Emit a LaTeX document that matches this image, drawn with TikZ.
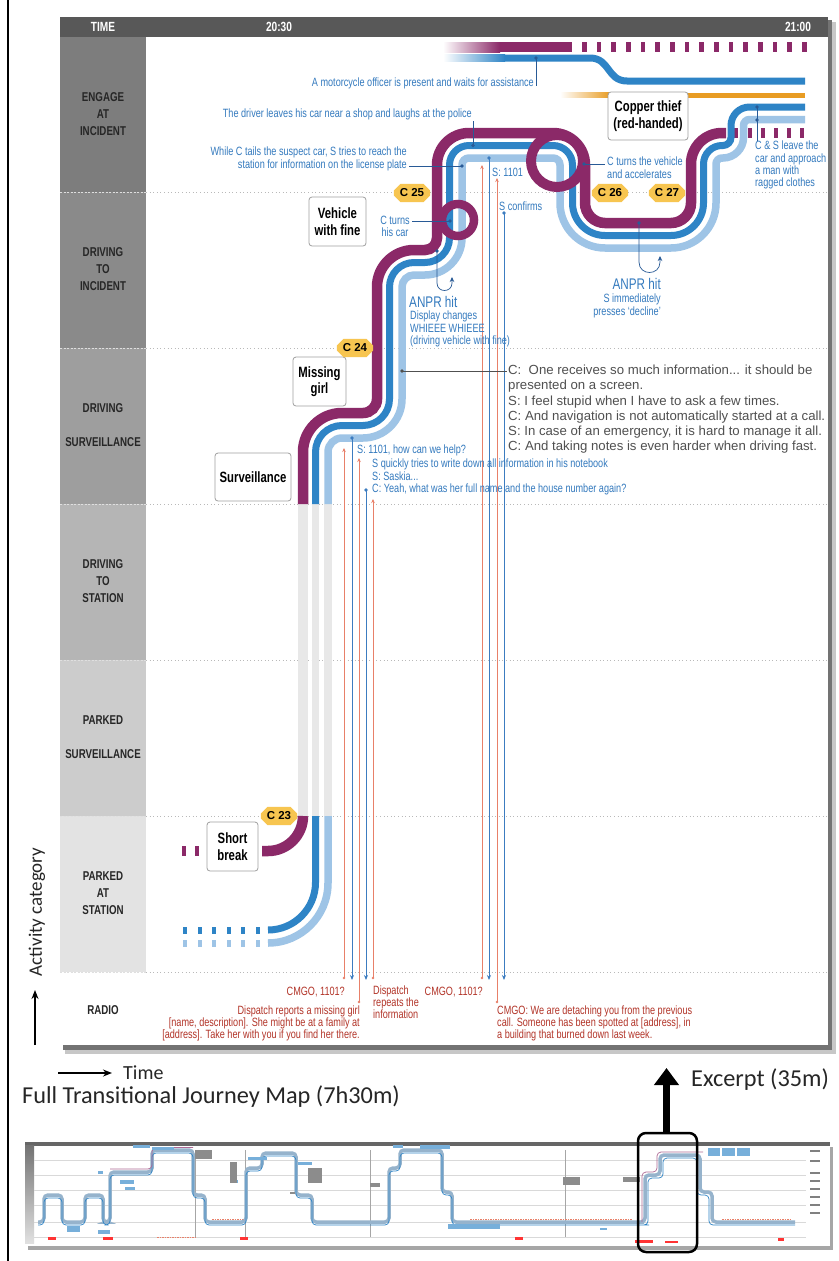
\documentclass[tikz,border=0pt]{standalone}
\usepackage{fontspec}
\setmainfont{Liberation Sans}
\newfontfamily\cond[FakeStretch=0.76]{Liberation Sans}
\newfontfamily\carl{Carlito}
\usetikzlibrary{arrows.meta,shapes.misc}
\definecolor{ptrack}{RGB}{139,41,104}
\definecolor{btrack}{RGB}{46,132,198}
\definecolor{ltrack}{RGB}{158,196,230}
\definecolor{otrack}{RGB}{232,156,35}
\definecolor{ann}{RGB}{52,122,190}
\definecolor{conn}{RGB}{40,90,150}
\definecolor{rtext}{RGB}{178,52,40}
\definecolor{rline}{RGB}{232,128,105}
\definecolor{bline}{RGB}{60,124,192}
\definecolor{badge}{RGB}{247,197,80}
\definecolor{hdr}{RGB}{88,88,88}
\definecolor{ghost}{RGB}{232,232,232}
\definecolor{disc}{RGB}{80,80,80}
\tikzset{
 pt/.style={draw=ptrack,line width=10.5pt},
 bt/.style={draw=btrack,line width=7pt},
 lt/.style={draw=ltrack,line width=7.5pt},
 annot/.style={text=ann,font=\cond\fontsize{12}{12.2}\selectfont,inner sep=0pt},
 rtxt/.style={text=rtext,font=\cond\fontsize{12}{11.7}\selectfont,inner sep=0pt},
 boxlab/.style={draw=gray!75,fill=white,rounded corners=3pt,line width=0.8pt,font=\cond\bfseries\fontsize{14.9}{16.5}\selectfont,align=center,inner sep=2pt},
 badgebox/.style={chamfered rectangle,chamfered rectangle xsep=3pt,fill=badge,font=\bfseries\fontsize{11.5}{12}\selectfont,inner xsep=3pt,inner ysep=1.5pt,minimum width=36pt,minimum height=14pt},
 rowlab/.style={font=\cond\bfseries\fontsize{12.8}{17}\selectfont,text=black!85,align=center},
 hdrlab/.style={font=\cond\bfseries\fontsize{13.3}{13}\selectfont,text=white},
 anprlab/.style={annot,font=\cond\fontsize{15.4}{15}\selectfont},
 conline/.style={draw=conn,line width=0.7pt},
 bradio/.style={draw=bline,line width=0.9pt,-{Stealth[length=5pt,width=4pt]}},
 rradio/.style={draw=rline,line width=0.9pt,-{Stealth[length=4pt,width=3.5pt]}},
 rowsep/.style={draw=gray!55,line width=0.9pt,dash pattern=on 1pt off 2.6pt},
 bigtxt/.style={font=\carl\fontsize{24.3}{26}\selectfont,text=black!85,inner sep=0pt},
}
\begin{document}
\begin{tikzpicture}[x=1pt,y=-1pt]
\useasboundingbox (0,0) rectangle (838,1261);
\fill[white] (0,0) rectangle (838,1261);
\draw[black,line width=1.5pt] (8,0) -- (8,1261);
% panel + shadow
\fill[black!22] (65,22) rectangle (836,1054);
\fill[black!55] (63,20) rectangle (832,1050);
\fill[white] (60,17) rectangle (828,1045);
\fill[hdr] (60,17) rectangle (828,37);
\node[hdrlab] (hT) at (103,27) {TIME};
\node[hdrlab] (h1) at (279,27) {20:30};
\node[hdrlab] (h2) at (798,27) {21:00};
% category column
\fill[black!51] (60,37) rectangle (146,192);
\fill[black!46] (60,192) rectangle (146,348);
\fill[black!38] (60,348) rectangle (146,504);
\fill[black!29] (60,504) rectangle (146,660);
\fill[black!20] (60,660) rectangle (146,816);
\fill[black!11] (60,816) rectangle (146,972);
\node[rowlab] (r1) at (103,114) {ENGAGE\\AT\\INCIDENT};
\node[rowlab] (r2) at (103,269) {DRIVING\\TO\\INCIDENT};
\node[rowlab] (r3) at (103,425.5) {DRIVING\\[17pt]SURVEILLANCE};
\node[rowlab] (r4) at (103,581) {DRIVING\\TO\\STATION};
\node[rowlab] (r5) at (103,737) {PARKED\\[17pt]SURVEILLANCE};
\node[rowlab] (r6) at (103,893) {PARKED\\AT\\STATION};
\node[rowlab] (r7) at (103,1010) {RADIO};
\foreach \y in {192,348,504,660,816,972} {
  \draw[rowsep] (146,\y) -- (828,\y);
  \draw[white!75!gray,line width=0.6pt,dash pattern=on 2pt off 1.5pt] (60,\y) -- (146,\y);
}
% ghost columns
\draw[ghost,line width=10.5pt] (303,504) -- (303,816);
\draw[ghost,line width=7.5pt] (315.5,504) -- (315.5,816);
\draw[ghost,line width=7.5pt] (328,504) -- (328,816);
% parked at station
\draw[lt] (268,943) .. controls +(33.1,0) and +(0,33.1) .. (328,883) -- (328,816);
\draw[bt] (268,930) .. controls +(26.2,0) and +(0,26.2) .. (315.5,882.5) -- (315.5,816);
\draw[pt] (262,851) -- (268,851) .. controls +(19.3,0) and +(0,19.3) .. (303,816);
\foreach \i in {0,...,5} {
  \fill[btrack] ({183+14.6*\i},926.5) rectangle ++(4,7);
  \fill[ltrack] ({183+14.6*\i},939.5) rectangle ++(4,7);
}
\fill[ptrack] (182,846) rectangle ++(3.5,10);
\fill[ptrack] (195,846) rectangle ++(4,10);
% top lines
\shade[left color=white,right color=ptrack] (443,42) rectangle (500,52);
\fill[ptrack] (499.5,42) rectangle (572,52);
\foreach \i in {0,...,15} \fill[ptrack] ({582+14.67*\i},42) rectangle ++(4.5,10);
\shade[left color=white,right color=btrack] (443,54.5) rectangle (505,61.5);
\draw[bt] (504.5,58) -- (590,58) .. controls (610,58) and (607,81) .. (627,81) -- (805,81);
\shade[left color=white,right color=otrack] (560,92.5) rectangle (610,97.5);
\draw[otrack,line width=5pt] (609.5,95) -- (805,95);
% right purple dashes
\foreach \x in {736,750,763,776,789,802} \fill[ptrack] ({\x-2.25},128) rectangle ++(4.5,10);
% main tracks
\draw[lt] (328,504) -- (328,452) .. controls +(0,-7.7) and +(-7.7,0) .. (342,438) -- (363,438) .. controls +(21.5,0) and +(0,21.5) .. (402,399) -- (402,287) .. controls +(0,-6.6) and +(-6.6,0) .. (414,275) -- (425,275) .. controls +(20.4,0) and +(0,20.4) .. (462,238) -- (462,165) .. controls +(0,-3.9) and +(-3.9,0) .. (469,158) -- (553,158) .. controls +(3.9,0) and +(0,-3.9) .. (560,165) -- (560,203) .. controls +(0,24.9) and +(-24.9,0) .. (605,248) -- (671,248) .. controls +(24.9,0) and +(0,24.9) .. (716,203) -- (716,164) .. controls +(0,-3.3) and +(-3.3,0) .. (722,158) -- (723,158) .. controls +(11.3,0) and +(0,11.3) .. (743.5,137.5) -- (743.5,125.5) .. controls +(0,-3.3) and +(-3.3,0) .. (749.5,119.5) -- (805,119.5);
\draw[bt] (315.5,504) -- (315.5,452) .. controls +(0,-14.6) and +(-14.6,0) .. (342,425.5) -- (363,425.5) .. controls +(14.6,0) and +(0,14.6) .. (389.5,399) -- (389.5,287) .. controls +(0,-13.5) and +(-13.5,0) .. (414,262.5) -- (425,262.5) .. controls +(13.5,0) and +(0,13.5) .. (449.5,238) -- (449.5,165) .. controls +(0,-10.8) and +(-10.8,0) .. (469,145.5) -- (553,145.5) .. controls +(10.8,0) and +(0,-10.8) .. (572.5,165) -- (572.5,203) .. controls +(0,17.9) and +(-17.9,0) .. (605,235.5) -- (671,235.5) .. controls +(17.9,0) and +(0,17.9) .. (703.5,203) -- (703.5,164) .. controls +(0,-10.2) and +(-10.2,0) .. (722,145.5) -- (723,145.5) .. controls +(4.4,0) and +(0,4.4) .. (731,137.5) -- (731,125.5) .. controls +(0,-10.2) and +(-10.2,0) .. (749.5,107) -- (805,107);
\draw[pt] (303,504) -- (303,452) .. controls +(0,-21.5) and +(-21.5,0) .. (342,413) -- (363,413) .. controls +(7.7,0) and +(0,7.7) .. (377,399) -- (377,287) .. controls +(0,-20.4) and +(-20.4,0) .. (414,250) -- (425,250) .. controls +(6.6,0) and +(0,6.6) .. (437,238) -- (437,165) .. controls +(0,-17.7) and +(-17.7,0) .. (469,133) -- (553,133) .. controls +(17.7,0) and +(0,-17.7) .. (585,165) -- (585,203) .. controls +(0,11) and +(-11,0) .. (605,223) -- (671,223) .. controls +(11,0) and +(0,11) .. (691,203) -- (691,164) .. controls +(0,-17.1) and +(-17.1,0) .. (722,133) -- (726,133);
\draw[ptrack,line width=8.5pt] (458,220) circle (16);
\draw[ptrack,line width=10pt] (557,161) circle (26);
% radio lines
\draw[rradio] (344,978) -- (344,448);
\draw[rradio] (359,1002) -- (359,458);
\draw[rradio] (373,978) -- (373,499);
\draw[rradio] (482,978) -- (482,165);
\draw[rradio] (497,1002) -- (497,178);
\foreach \x/\y in {344/978,359/1002,373/978,482/978,497/1002} \fill[rline] (\x,\y) circle (1.4);
\draw[bradio] (352,438) -- (352,980);
\draw[bradio] (366,490) -- (366,980);
\draw[bradio] (489,158) -- (489,980);
\draw[bradio] (504,213) -- (504,980);
\foreach \x/\y in {352/438,366/490,489/158,504/213} \fill[bline] (\x,\y) circle (1.8);
% annotations
\node[annot,anchor=east] (moto) at (534,83) {A motorcycle officer is present and waits for assistance};
\draw[conline] (536,58) -- (536,86); \fill[conn] (536,58) circle (1.8);
\node[annot,anchor=east] (driver) at (472,114) {The driver leaves his car near a shop and laughs at the police};
\draw[conline] (473,121) -- (473,145.5); \fill[conn] (473,145.5) circle (1.8);
\node[annot,anchor=north east,align=right] (tails) at (407,147) {While C tails the suspect car, S tries to reach the\\station for information on the license plate};
\draw[conline] (409,166) -- (462,166); \fill[conn] (462,166) circle (1.8);
\node[annot,anchor=west] (s1101b) at (492,172) {S: 1101};
\node[annot,anchor=west] (sconf) at (499,206) {S confirms};
\node[annot,align=center] (cturns) at (395,226) {C turns\\his car};
\draw[conline] (412,221) -- (450,221); \fill[conn] (450,221) circle (1.8);
\node[annot,anchor=north west,align=left] (cveh) at (607,157) {C turns the vehicle\\and accelerates};
\draw[conline] (584,164) -- (605,164); \fill[conn] (584,164) circle (1.8);
\node[anprlab,anchor=west] (anpr1) at (409,302) {ANPR hit};
\node[annot,anchor=north west,align=left] (anpr1t) at (410,311) {Display changes\\WHIEEE WHIEEE\\(driving vehicle with fine)};
\draw[conline,-{Stealth[length=5pt,width=4.5pt]}] (437,251) -- (437,283) .. controls +(0,10) and +(0,10) .. (452,283) -- (452,277);
\fill[conn] (437,251) circle (1.8);
\node[anprlab,anchor=east] (anpr2) at (661,284) {ANPR hit};
\node[annot,anchor=north east,align=right] (anpr2t) at (661,294) {S immediately\\presses ‘decline’};
\draw[conline,-{Stealth[length=5pt,width=4.5pt]}] (639,223) -- (639,262) .. controls +(0,14) and +(0,14) .. (660,262) -- (660,256);
\fill[conn] (639,223) circle (1.8);
\node[annot,anchor=north west,align=left] (csleave) at (755,141) {C \& S leave the\\car and approach\\a man with\\ragged clothes};
\draw[conline] (757,107) -- (757,141); \fill[conn] (757,107) circle (1.8); \fill[conn] (757,120) circle (1.8);
\node[anchor=north west,align=left,text=disc,font=\fontsize{13.2}{15.2}\selectfont,inner sep=0pt] (disc) at (508,365) {C:\ \ One receives so much information... it should be\\presented on a screen.\\S: I feel stupid when I have to ask a few times.\\C: And navigation is not automatically started at a call.\\S: In case of an emergency, it is hard to manage it all.\\C: And taking notes is even harder when driving fast.};
\draw[disc,line width=0.7pt] (402,371) -- (507,371); \fill[disc] (402,371) circle (1.8);
\node[annot,anchor=west] (s1101a) at (357,450) {S: 1101, how can we help?};
\node[annot,anchor=north west,align=left,font=\cond\fontsize{12}{12.4}\selectfont] (squick) at (372,459) {S quickly tries to write down all information in his notebook\\S: Saskia...\\C: Yeah, what was her full name and the house number again?};
% radio texts
\node[rtxt,anchor=east] (cmgo1) at (345,992) {CMGO, 1101?};
\node[rtxt,anchor=north east,align=right] (dispr) at (360,1006) {Dispatch reports a missing girl\\{}[name, description]. She might be at a family at\\{}[address]. Take her with you if you find her there.};
\node[rtxt,anchor=north west,align=left] (disprep) at (373,986) {Dispatch\\repeats the\\information};
\node[rtxt,anchor=east] (cmgo2) at (483,992) {CMGO, 1101?};
\node[rtxt,anchor=north west,align=left] (cmgod) at (497,1006) {CMGO: We are detaching you from the previous\\call. Someone has been spotted at {[}address{]}, in\\a building that burned down last week.};
% boxes
\node[boxlab,minimum width=57pt,minimum height=49pt] (vfine) at (337.5,221.5) {Vehicle\\with fine};
\node[boxlab,minimum width=53pt,minimum height=49pt] (missing) at (319.5,381.5) {Missing\\girl};
\node[boxlab,minimum width=76pt,minimum height=48pt] (surv) at (253,477) {Surveillance};
\node[boxlab,minimum width=51pt,minimum height=49pt] (short) at (232.5,846.5) {Short\\break};
\node[boxlab,minimum width=80pt,minimum height=48pt] (copper) at (648,116) {Copper thief\\(red-handed)};
% badges
\node[badgebox] (c23) at (279,816) {C 23};
\node[badgebox] (c24) at (355,348) {C 24};
\node[badgebox] (c25) at (412,193) {C 25};
\node[badgebox] (c26) at (610,193) {C 26};
\node[badgebox] (c27) at (667,193) {C 27};
% axis labels
\draw[line width=1.3pt,-{Stealth[length=9pt,width=7pt]}] (58,1073) -- (112,1073);
\node[font=\carl\fontsize{20}{20}\selectfont,anchor=west,inner sep=0pt,text=black!85] (timel) at (123,1073) {Time};
\draw[line width=1.3pt,-{Stealth[length=9pt,width=7pt]}] (35,1045) -- (35,990);
\node[font=\carl\fontsize{19}{19}\selectfont,rotate=90,inner sep=0pt,text=black!85] (actl) at (37,912) {Activity category};
\node[bigtxt,anchor=west] (fullt) at (22,1097) {Full Transitional Journey Map (7h30m)};
\node[bigtxt,anchor=west] (excl) at (691,1080) {Excerpt (35m)};
% mini map
\fill[black!35] (28,1147) rectangle (833,1250);
\fill[white] (25,1143) rectangle (830,1246);
\fill[black!60] (25,1142) rectangle (830,1145.5);
\shade[top color=black!55,bottom color=black!12] (25,1145.5) rectangle (34,1243);
\foreach \y in {1160,1175,1190,1205,1222,1237} \draw[black!15,line width=0.4pt] (34,\y) -- (806,\y);
\foreach \x in {195,245,370,565} \draw[black!35,line width=0.5pt] (\x,1150) -- (\x,1237);
\draw[rline,line width=0.7pt,dash pattern=on 1.5pt off 1pt] (212,1219) -- (244,1219) (470,1219) -- (632,1219) (722,1219) -- (790,1219);
\draw[rline,line width=0.7pt,dash pattern=on 1.5pt off 1pt] (157,1237) -- (195,1237);
\draw[ltrack!75!gray,line width=3.5pt,rounded corners=4pt] (38,1222) -- (44,1222) -- (44,1195) -- (62,1195) -- (62,1222) -- (85,1222) -- (85,1195) -- (103,1195) -- (103,1222) -- (110,1222) -- (110,1172) -- (152,1172) -- (152,1150) -- (193,1150) -- (193,1195) -- (205,1195) -- (205,1222) -- (246,1222) -- (246,1168) -- (262,1168) -- (262,1153) -- (296,1153) -- (296,1195) -- (312,1195) -- (312,1222) -- (389,1222) -- (389,1168) -- (400,1168) -- (400,1150) -- (442,1150) -- (442,1192) -- (452,1192) -- (452,1222) -- (640,1222) -- (645,1222) -- (645,1175) -- (660,1175) -- (660,1155) -- (700,1155) -- (700,1192) -- (712,1192) -- (712,1222) -- (795,1222);
\draw[btrack,line width=0.7pt,rounded corners=4pt] (38,1225) -- (44,1225) -- (44,1198) -- (62,1198) -- (62,1225) -- (85,1225) -- (85,1198) -- (103,1198) -- (103,1225) -- (110,1225) -- (110,1175) -- (152,1175) -- (152,1153) -- (193,1153) -- (193,1198) -- (205,1198) -- (205,1225) -- (246,1225) -- (246,1171) -- (262,1171) -- (262,1156) -- (296,1156) -- (296,1198) -- (312,1198) -- (312,1225) -- (389,1225) -- (389,1171) -- (400,1171) -- (400,1153) -- (442,1153) -- (442,1195) -- (452,1195) -- (452,1225) -- (645,1225) -- (648,1225) -- (648,1178) -- (663,1178) -- (663,1158) -- (697,1158) -- (697,1195) -- (709,1195) -- (709,1225) -- (795,1225);
\draw[ptrack!70,line width=0.7pt,rounded corners=4pt] (110,1169) -- (152,1169) -- (152,1147.5) -- (193,1147.5);
\draw[ptrack!70,line width=0.7pt,rounded corners=4pt] (642,1222) -- (642,1172) -- (657,1172) -- (657,1152) -- (703,1152);
\foreach \x/\y/\w/\h in {133/1145/17/3,152/1147/22/3,98/1171/5/3,67/1226/13/6,98/1230/12/4,248/1157/19/3,298/1162/14/3,393/1145/10/3,420/1145/30/4,448/1224/52/5,600/1228/7/2,708/1148/12/8,722/1148/13/8,737/1148/13/8,120/1180/14/4,125/1187/10/3,230/1180/8/3}
  \fill[btrack!65] (\x,\y) rectangle ++(\w,\h);
\foreach \x/\y/\w/\h in {195/1150/17/9,230/1162/7/21,308/1168/14/15,370/1183/10/4,563/1177/17/8,623/1177/17/5,290/1192/5/2}
  \fill[black!45] (\x,\y) rectangle ++(\w,\h);
\foreach \x/\y/\w/\h in {48/1237/8/3,103/1237/10/3,240/1237/8/3,515/1237/8/3,635/1240/18/3,665/1241/13/2,778/1238/6/3}
  \fill[red!80] (\x,\y) rectangle ++(\w,\h);
\foreach \y in {1150,1160,1172,1180,1188,1196,1204,1212} \fill[black!50] (810,\y) rectangle ++(10,2);
\draw[black,line width=2.5pt,rounded corners=8pt] (638,1133) rectangle (697,1252);
\draw[line width=7pt,-{Triangle[width=24pt,length=17pt]}] (666.5,1133) -- (666.5,1068);
\end{tikzpicture}
\end{document}
